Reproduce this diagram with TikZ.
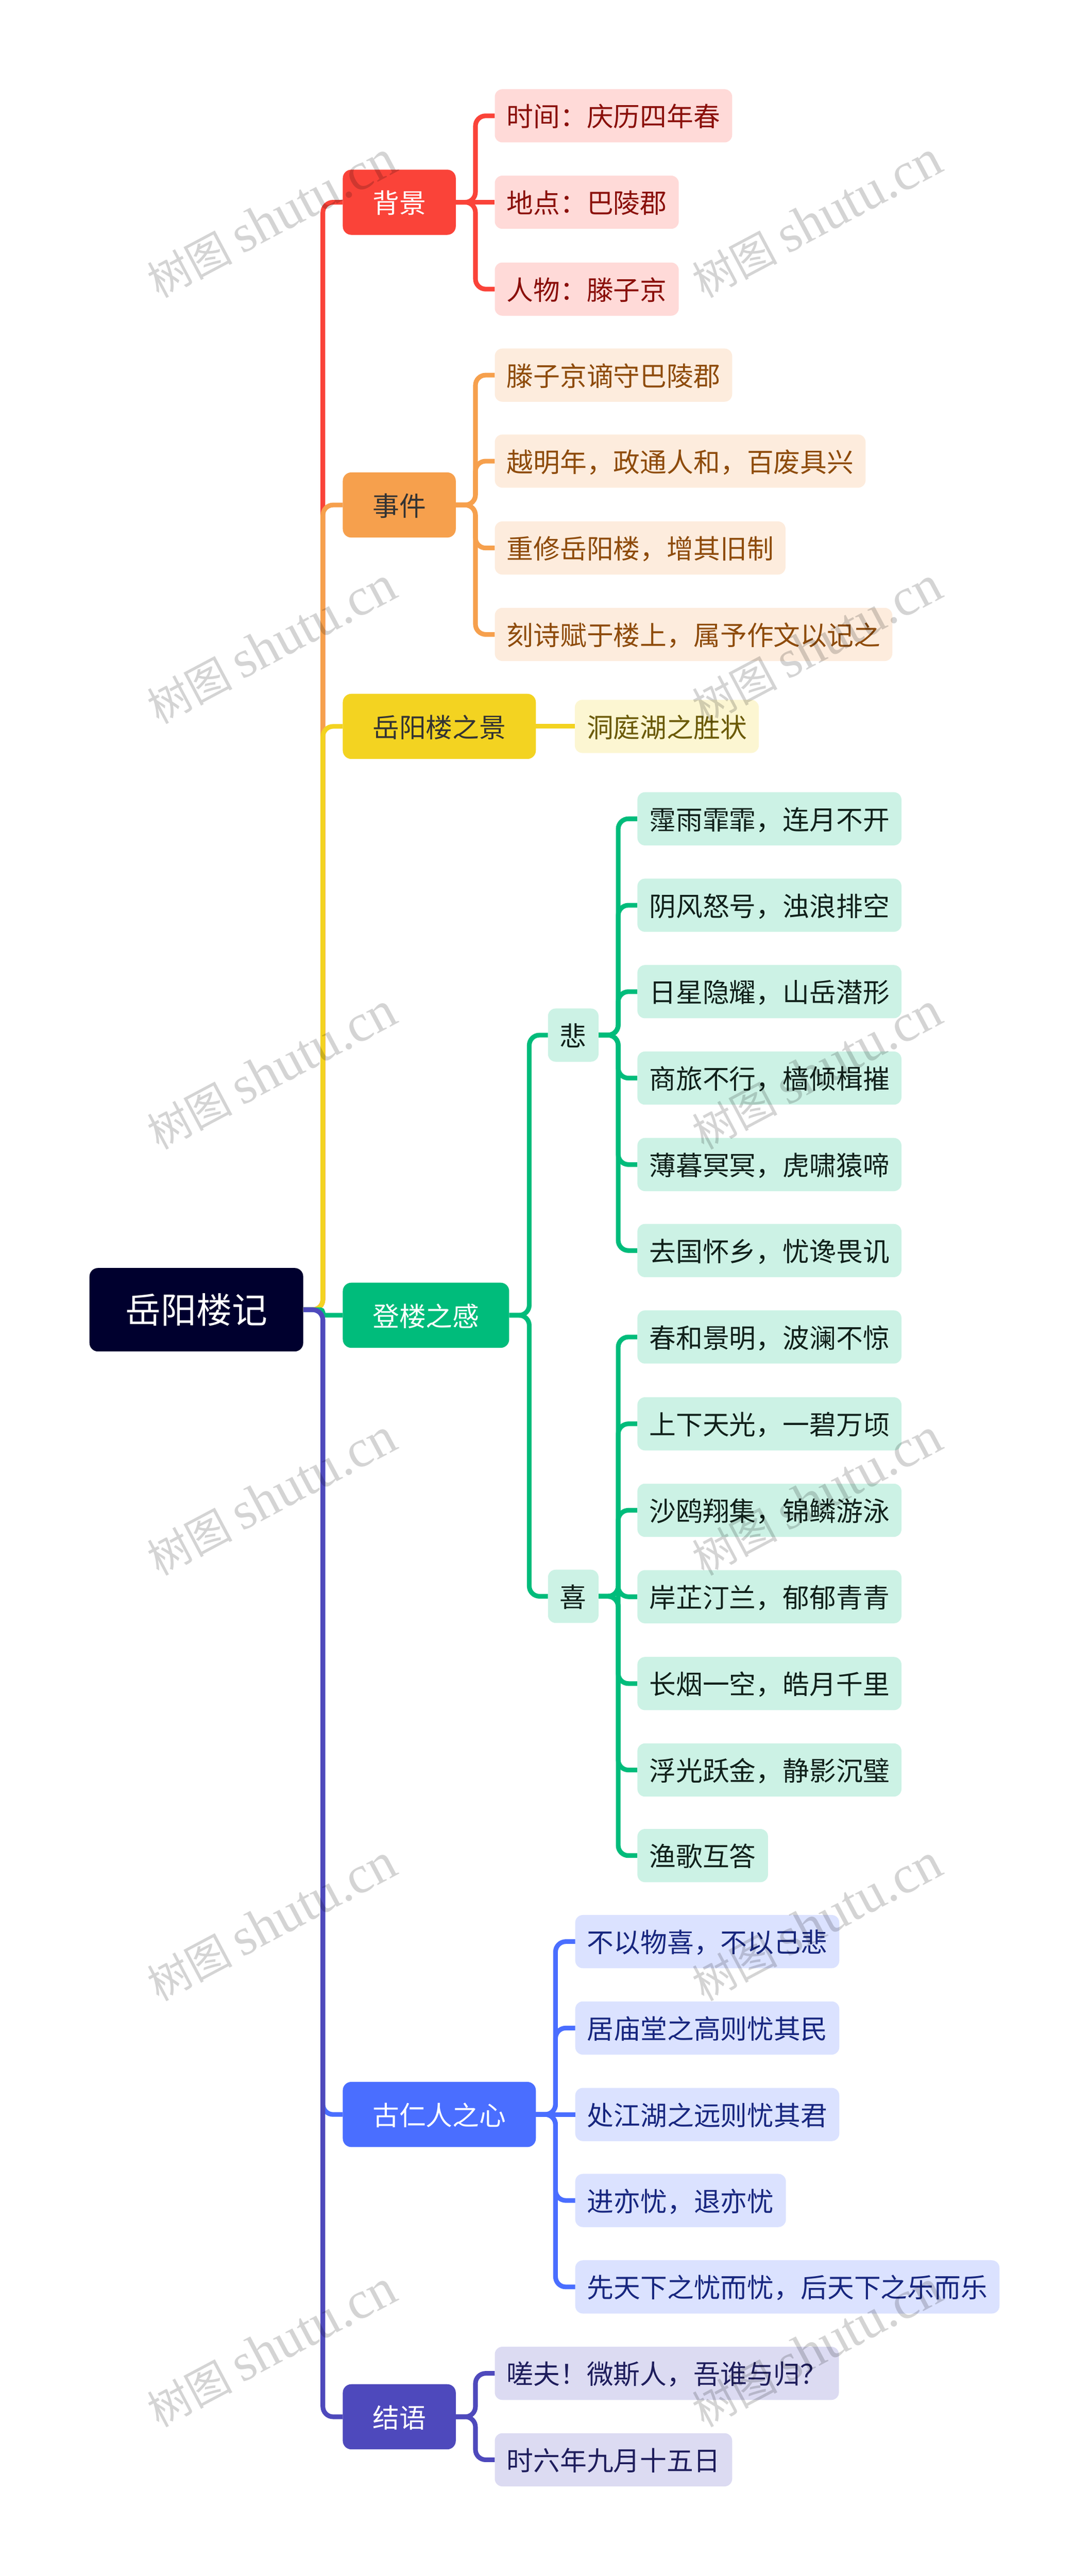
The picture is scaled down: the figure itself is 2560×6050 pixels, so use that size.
\documentclass[tikz,border=0pt]{standalone}
\usepackage{fontspec}
\setmainfont{Noto Sans CJK SC}
\newfontfamily\markfont{Liberation Serif}
\definecolor{rootdark}{HTML}{00002E}
\definecolor{redmain}{HTML}{FA4339}
\definecolor{redsoft}{HTML}{FFDAD8}
\definecolor{redtext}{HTML}{8A0F0A}
\definecolor{orangemain}{HTML}{F6A04D}
\definecolor{orangesoft}{HTML}{FDECDD}
\definecolor{orangetext}{HTML}{8E4B0B}
\definecolor{yellowmain}{HTML}{F3D321}
\definecolor{yellowsoft}{HTML}{FCF6D2}
\definecolor{yellowtext}{HTML}{6B5A06}
\definecolor{greenmain}{HTML}{00BC7B}
\definecolor{greensoft}{HTML}{CCF2E5}
\definecolor{greentext}{HTML}{10201A}
\definecolor{bluemain}{HTML}{4A6EFF}
\definecolor{bluesoft}{HTML}{DBE2FF}
\definecolor{bluetext}{HTML}{17267F}
\definecolor{purplemain}{HTML}{4E49BC}
\definecolor{purplesoft}{HTML}{DCDBF2}
\definecolor{purpletext}{HTML}{1E1D5C}
\newcommand{\marktext}{树图 {\markfont\fontsize{125}{140}\selectfont shutu.cn}}
\tikzset{
  x=1pt, y=-1pt,
  basebox/.style={anchor=west, inner xsep=28pt, inner ysep=0pt, text height=56pt, text depth=5pt,
    font=\fontsize{62.7}{75}\selectfont},
  rootbox/.style={anchor=west, inner xsep=84pt, inner ysep=0pt, minimum height=196pt, rounded corners=20pt,
    fill=rootdark, text=white, text height=72pt, text depth=9pt, font=\fontsize{83.5}{100}\selectfont},
  mainbox/.style={basebox, inner xsep=70pt, minimum height=153pt, rounded corners=20pt, fill=#1},
  leafbox/.style={basebox, minimum height=125pt, rounded corners=18pt},
  redleaf/.style={leafbox, fill=redsoft, text=redtext},
  orangeleaf/.style={leafbox, fill=orangesoft, text=orangetext},
  yellowleaf/.style={leafbox, fill=yellowsoft, text=yellowtext},
  greenleaf/.style={leafbox, fill=greensoft, text=greentext},
  blueleaf/.style={leafbox, fill=bluesoft, text=bluetext},
  purpleleaf/.style={leafbox, fill=purplesoft, text=purpletext},
  link/.style={draw=#1, line width=11pt, rounded corners=24pt},
  markbox/.style={rotate=28, text=black, text opacity=0.17, font=\fontsize{100}{120}\selectfont},
}
\begin{document}
\begin{tikzpicture}
\useasboundingbox (0,0) rectangle (2560,6050);

\node[rootbox] (root) at (210,3076) {岳阳楼记};

\node[mainbox=redmain, text=white] (beijing) at (805,475) {背景};
\node[redleaf] (shijian) at (1162,272) {时间：庆历四年春};
\node[redleaf] (didian) at (1162,475) {地点：巴陵郡};
\node[redleaf] (renwu) at (1162,679) {人物：滕子京};

\node[mainbox=orangemain, text=black!80] (event) at (805,1186) {事件};
\node[orangeleaf] (evta) at (1162,881) {滕子京谪守巴陵郡};
\node[orangeleaf] (evtb) at (1162,1083) {越明年，政通人和，百废具兴};
\node[orangeleaf] (evtc) at (1162,1287) {重修岳阳楼，增其旧制};
\node[orangeleaf] (evtd) at (1162,1490) {刻诗赋于楼上，属予作文以记之};

\node[mainbox=yellowmain, text=black!80] (scene) at (805,1706) {岳阳楼之景};
\node[yellowleaf] (scenea) at (1350,1706) {洞庭湖之胜状};

\node[mainbox=greenmain, text=white] (feel) at (805,3089) {登楼之感};
\node[greenleaf] (bei) at (1287,2431) {悲};
\node[greenleaf] (xi) at (1287,3749) {喜};
\node[greenleaf] (beia) at (1497,1923) {霪雨霏霏，连月不开};
\node[greenleaf] (beib) at (1497,2126) {阴风怒号，浊浪排空};
\node[greenleaf] (beic) at (1497,2329) {日星隐耀，山岳潜形};
\node[greenleaf] (beid) at (1497,2532) {商旅不行，樯倾楫摧};
\node[greenleaf] (beie) at (1497,2735) {薄暮冥冥，虎啸猿啼};
\node[greenleaf] (beif) at (1497,2937) {去国怀乡，忧谗畏讥};
\node[greenleaf] (xia) at (1497,3140) {春和景明，波澜不惊};
\node[greenleaf] (xib) at (1497,3344) {上下天光，一碧万顷};
\node[greenleaf] (xic) at (1497,3547) {沙鸥翔集，锦鳞游泳};
\node[greenleaf] (xid) at (1497,3750) {岸芷汀兰，郁郁青青};
\node[greenleaf] (xie) at (1497,3954) {长烟一空，皓月千里};
\node[greenleaf] (xif) at (1497,4157) {浮光跃金，静影沉璧};
\node[greenleaf] (xig) at (1497,4358) {渔歌互答};

\node[mainbox=bluemain, text=white] (heart) at (805,4966) {古仁人之心};
\node[blueleaf] (hearta) at (1351,4560) {不以物喜，不以己悲};
\node[blueleaf] (heartb) at (1351,4763) {居庙堂之高则忧其民};
\node[blueleaf] (heartc) at (1351,4966) {处江湖之远则忧其君};
\node[blueleaf] (heartd) at (1351,5168) {进亦忧，退亦忧};
\node[blueleaf] (hearte) at (1351,5371) {先天下之忧而忧，后天下之乐而乐};

\node[mainbox=purplemain, text=white] (ending) at (805,5676) {结语};
\node[purpleleaf] (endinga) at (1162,5574) {嗟夫！微斯人，吾谁与归？};
\node[purpleleaf] (endingb) at (1162,5777) {时六年九月十五日};

\draw[link=redmain] (root.east) -- ++(46,0) |- (beijing.west);
\draw[link=redmain] (beijing.east) -- ++(46,0) |- (shijian.west);
\draw[link=redmain] (beijing.east) -- (didian.west);
\draw[link=redmain] (beijing.east) -- ++(46,0) |- (renwu.west);

\draw[link=orangemain] (root.east) -- ++(46,0) |- (event.west);
\draw[link=orangemain] (event.east) -- ++(46,0) |- (evta.west);
\draw[link=orangemain] (event.east) -- ++(46,0) |- (evtb.west);
\draw[link=orangemain] (event.east) -- ++(46,0) |- (evtc.west);
\draw[link=orangemain] (event.east) -- ++(46,0) |- (evtd.west);

\draw[link=yellowmain] (root.east) -- ++(46,0) |- (scene.west);
\draw[link=yellowmain] (scene.east) -- (scenea.west);

\draw[link=greenmain, rounded corners=6pt] (root.east) -- ++(46,0) |- (feel.west);
\draw[link=greenmain] (feel.east) -- ++(47,0) |- (bei.west);
\draw[link=greenmain] (feel.east) -- ++(47,0) |- (xi.west);
\draw[link=greenmain] (bei.east) -- ++(46,0) |- (beia.west);
\draw[link=greenmain] (bei.east) -- ++(46,0) |- (beib.west);
\draw[link=greenmain] (bei.east) -- ++(46,0) |- (beic.west);
\draw[link=greenmain] (bei.east) -- ++(46,0) |- (beid.west);
\draw[link=greenmain] (bei.east) -- ++(46,0) |- (beie.west);
\draw[link=greenmain] (bei.east) -- ++(46,0) |- (beif.west);
\draw[link=greenmain] (xi.east) -- ++(46,0) |- (xia.west);
\draw[link=greenmain] (xi.east) -- ++(46,0) |- (xib.west);
\draw[link=greenmain] (xi.east) -- ++(46,0) |- (xic.west);
\draw[link=greenmain] (xi.east) -- ++(46,0) |- (xid.west);
\draw[link=greenmain] (xi.east) -- ++(46,0) |- (xie.west);
\draw[link=greenmain] (xi.east) -- ++(46,0) |- (xif.west);
\draw[link=greenmain] (xi.east) -- ++(46,0) |- (xig.west);

\draw[link=bluemain] (root.east) -- ++(46,0) |- (heart.west);
\draw[link=bluemain] (heart.east) -- ++(46,0) |- (hearta.west);
\draw[link=bluemain] (heart.east) -- ++(46,0) |- (heartb.west);
\draw[link=bluemain] (heart.east) -- (heartc.west);
\draw[link=bluemain] (heart.east) -- ++(46,0) |- (heartd.west);
\draw[link=bluemain] (heart.east) -- ++(46,0) |- (hearte.west);

\draw[link=purplemain] (root.east) -- ++(46,0) |- (ending.west);
\draw[link=purplemain] (ending.east) -- ++(46,0) |- (endinga.west);
\draw[link=purplemain] (ending.east) -- ++(46,0) |- (endingb.west);

\node[markbox] (marka) at (638,516) {\marktext};
\node[markbox] (markb) at (1919,516) {\marktext};
\node[markbox] (markc) at (638,1516) {\marktext};
\node[markbox] (markd) at (1919,1516) {\marktext};
\node[markbox] (marke) at (638,2516) {\marktext};
\node[markbox] (markf) at (1919,2516) {\marktext};
\node[markbox] (markg) at (638,3516) {\marktext};
\node[markbox] (markh) at (1919,3516) {\marktext};
\node[markbox] (marki) at (638,4516) {\marktext};
\node[markbox] (markj) at (1919,4516) {\marktext};
\node[markbox] (markk) at (638,5516) {\marktext};
\node[markbox] (markl) at (1919,5516) {\marktext};
\end{tikzpicture}
\end{document}
